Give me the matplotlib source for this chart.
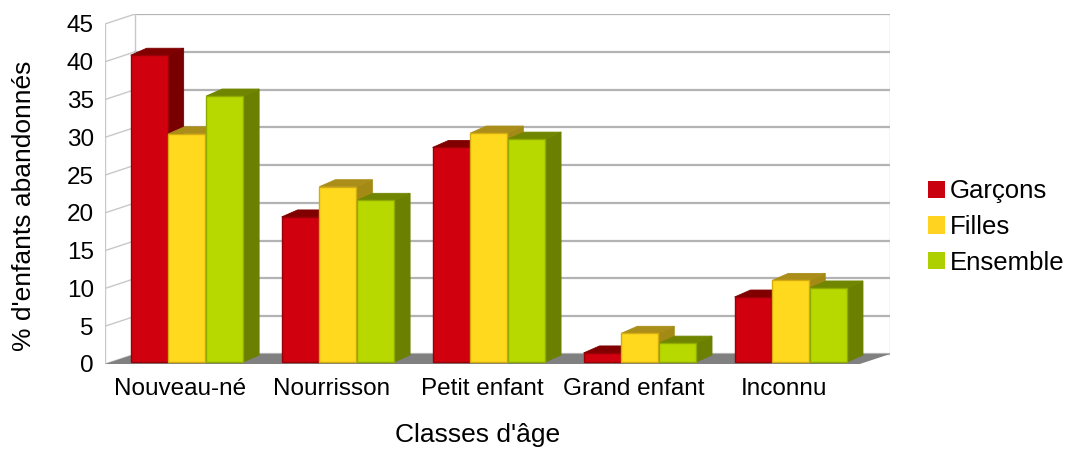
import numpy as np
import matplotlib
matplotlib.use("Agg")
import matplotlib.pyplot as plt
from matplotlib.patches import Polygon

plt.rcParams['font.family'] = ['Liberation Sans', 'DejaVu Sans']

# data
categories = ["Nouveau-né", "Nourrisson", "Petit enfant", "Grand enfant", "Inconnu"]
series_names = ["Garçons", "Filles", "Ensemble"]
garcons = [40.6, 19.2, 28.4, 1.2, 8.6]
filles = [30.2, 23.2, 30.3, 3.8, 10.8]
ensemble = [35.2, 21.4, 29.5, 2.5, 9.8]
yticks = [0, 5, 10, 15, 20, 25, 30, 35, 40, 45]

front_cols = ['#d0000f', '#ffd91e', '#b7d900']
side_cols = ['#780000', '#a38a15', '#6b7f00']
top_cols = ['#800000', '#ab8e1a', '#718600']
edge_cols = ['#9a0008', '#d4ac10', '#8fab00']
legend_cols = ['#c9000e', '#ffd320', '#aecf00']

# 3D look: offsets of back wall and bar depth (in data units)
DX, DY = 0.2, 1.32
b_dx, b_dy = 0.04, 0.26      # bar front face offset from front plane
bd_x, bd_y = 0.106, 0.93     # bar depth
bw = 0.245
ymax = 45
fs = 17.5
fs_title = 19

fig = plt.figure(figsize=(10.68, 4.49), dpi=100)
ax = fig.add_axes([105/1068, 85/449, 785/1068, 350/449])
ax.set_xlim(-0.5, 4.5 + DX)
ax.set_ylim(0, ymax + DY)
for s in ax.spines.values():
    s.set_visible(False)

wall = '#b3b3b3'
x_left, x_right = -0.5, len(categories) - 0.5
# back wall grid + left wall slants
for v in yticks:
    ax.plot([x_left + DX, x_right + DX], [v + DY, v + DY], color=wall, lw=1.6, zorder=1)
    ax.plot([x_left, x_left + DX], [v, v + DY], color='#c8c8c8', lw=1.0, zorder=1)
ax.plot([x_left, x_left], [0, ymax], color='#c8c8c8', lw=1.0, zorder=1)
ax.plot([x_left + DX, x_left + DX], [DY, ymax + DY], color='#c8c8c8', lw=1.0, zorder=1)
ax.plot([x_right + DX, x_right + DX], [DY, ymax + DY], color='#c8c8c8', lw=1.0, zorder=1)

# floor
ax.add_patch(Polygon([(x_left, 0), (x_right, 0), (x_right + DX, DY), (x_left + DX, DY)],
                     closed=True, facecolor='#808080', edgecolor='none', zorder=2))

data = [garcons, filles, ensemble]
z = 3
for c in range(len(categories)):
    for i, vals in enumerate(data):
        v = vals[c]
        x0 = c - 0.37 + i * 0.25 + b_dx
        y0 = b_dy
        side = [(x0 + bw, y0), (x0 + bw + bd_x, y0 + bd_y),
                (x0 + bw + bd_x, y0 + v + bd_y), (x0 + bw, y0 + v)]
        top = [(x0, y0 + v), (x0 + bw, y0 + v),
               (x0 + bw + bd_x, y0 + v + bd_y), (x0 + bd_x, y0 + v + bd_y)]
        ax.add_patch(Polygon(side, closed=True, facecolor=side_cols[i],
                             edgecolor=side_cols[i], lw=0.6, zorder=z))
        ax.add_patch(Polygon(top, closed=True, facecolor=top_cols[i],
                             edgecolor=top_cols[i], lw=0.6, zorder=z))
        ax.add_patch(plt.Rectangle((x0, y0), bw, v, facecolor=front_cols[i],
                                   edgecolor=edge_cols[i], lw=1.0, zorder=z + 1))
        z += 2

ax.set_yticks(yticks)
ax.set_yticklabels([str(t) for t in yticks], fontsize=fs)
ax.set_xticks(range(len(categories)))
ax.set_xticklabels(categories, fontsize=fs)
ax.tick_params(axis='y', length=0, pad=8)
ax.tick_params(axis='x', length=0, pad=10)

ax.set_ylabel("% d'enfants abandonnés", fontsize=fs_title)
ax.yaxis.set_label_coords(-0.088, 0.451)
ax.set_xlabel("Classes d'âge", fontsize=fs_title)
ax.xaxis.set_label_coords(0.475, -0.168)

handles = [plt.Rectangle((0, 0), 1, 1, facecolor=col, edgecolor='none') for col in legend_cols]
fig.legend(handles, series_names, loc='center left', bbox_to_anchor=(915/1068, 1 - 227/449),
           frameon=False, fontsize=18.5, handlelength=0.65, handleheight=0.65,
           handletextpad=0.2, labelspacing=0.45, borderpad=0)

fig.savefig("out.png", dpi=100)
